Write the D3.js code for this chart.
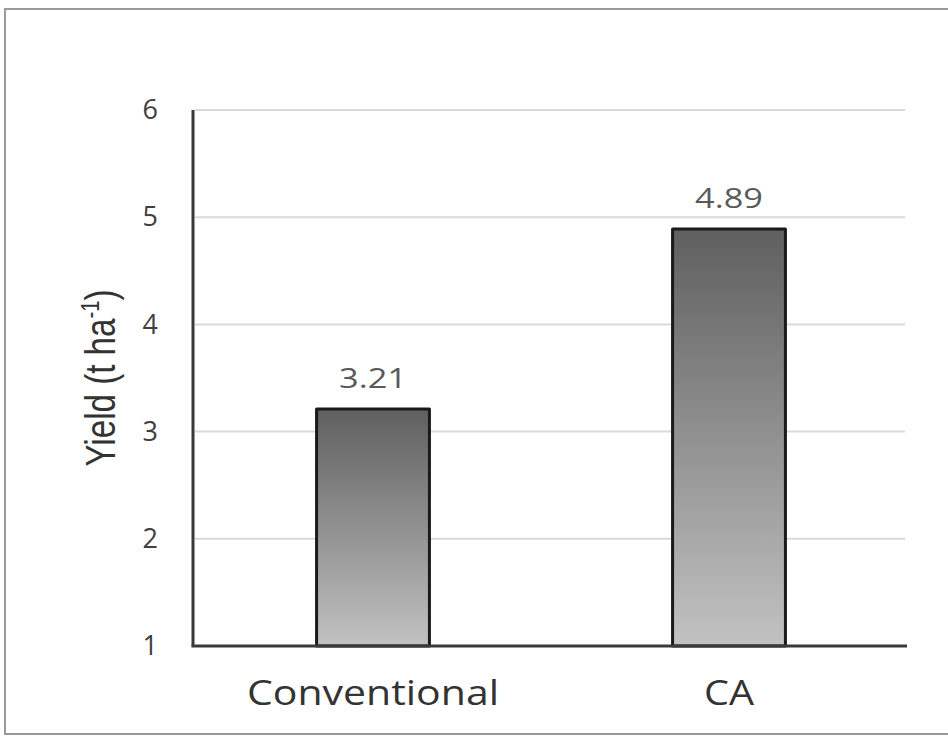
<!DOCTYPE html>
<html>
<head>
<meta charset="utf-8">
<script src="https://cdn.jsdelivr.net/npm/d3@7"></script>
<style>
  body { margin: 0; background: #fff; }
  svg { display: block; }
</style>
</head>
<body>
<svg id="chart" width="948" height="736"></svg>
<script>
// Yield by tillage system
const categories = ["Conventional", "CA"];
const yields = [3.21, 4.89];
const yTicks = [1, 2, 3, 4, 5, 6];
const yDomain = [1, 6];

const svg = d3.select("#chart");
const plot = { left: 195, right: 907, top: 110, bottom: 646 };

const x = d3.scaleBand()
  .domain(categories)
  .range([plot.left, plot.right])
  .paddingInner(0.683)
  .paddingOuter(0.3415);

const y = d3.scaleLinear().domain(yDomain).range([plot.bottom, plot.top]);

// Bar fill: dark grey at the top fading to light grey at the base
const defs = svg.append("defs");
const grad = defs.append("linearGradient")
  .attr("id", "barFill")
  .attr("x1", 0).attr("y1", 0).attr("x2", 0).attr("y2", 1);
grad.append("stop").attr("offset", "0%").attr("stop-color", "#5f5f5f");
grad.append("stop").attr("offset", "100%").attr("stop-color", "#c2c2c2");

// Outer frame
svg.append("rect")
  .attr("x", 5).attr("y", 9)
  .attr("width", 980).attr("height", 725)
  .attr("fill", "none")
  .attr("stroke", "#9a9a9a")
  .attr("stroke-width", 2);

// Horizontal gridlines
svg.append("g")
  .selectAll("line")
  .data(yTicks.filter(t => t !== yDomain[0]))
  .join("line")
  .attr("x1", plot.left).attr("x2", plot.right - 2)
  .attr("y1", d => y(d)).attr("y2", d => y(d))
  .attr("stroke", "#d9d9d9")
  .attr("stroke-width", 2);

// Y axis with tick labels
const yAxis = svg.append("g")
  .attr("transform", `translate(${plot.left},0)`)
  .call(d3.axisLeft(y).tickValues(yTicks).tickSize(0).tickPadding(37).tickFormat(d3.format("d")));
yAxis.select(".domain").remove();
yAxis.selectAll("text")
  .attr("font-family", "'Open Sans', sans-serif")
  .attr("font-size", 27)
  .attr("fill", "#404040");

// Bars
svg.append("g")
  .selectAll("rect")
  .data(categories.map((c, i) => ({ c, v: yields[i] })))
  .join("rect")
  .attr("x", d => x(d.c))
  .attr("y", d => y(d.v))
  .attr("width", x.bandwidth())
  .attr("height", d => y(yDomain[0]) - y(d.v))
  .attr("fill", "url(#barFill)")
  .attr("stroke", "#1a1a1a")
  .attr("stroke-width", 3)
  .attr("stroke-linejoin", "round");

// Axis lines
svg.append("line")
  .attr("x1", plot.left - 2).attr("x2", plot.left - 2)
  .attr("y1", plot.top).attr("y2", plot.bottom)
  .attr("stroke", "#3a3a3a").attr("stroke-width", 3);
svg.append("line")
  .attr("x1", plot.left - 3.5).attr("x2", plot.right)
  .attr("y1", plot.bottom).attr("y2", plot.bottom)
  .attr("stroke", "#3a3a3a").attr("stroke-width", 3);

// Value labels above bars
svg.append("g")
  .selectAll("text")
  .data(categories.map((c, i) => ({ c, v: yields[i] })))
  .join("text")
  .attr("x", d => x(d.c) + x.bandwidth() / 2)
  .attr("y", d => y(d.v) - 21)
  .attr("text-anchor", "middle")
  .attr("font-family", "'Open Sans', sans-serif")
  .attr("font-size", 27)
  .attr("fill", "#5a5a5a")
  .attr("textLength", 68)
  .attr("lengthAdjust", "spacingAndGlyphs")
  .text(d => d.v.toFixed(2));

// Category labels
svg.append("g")
  .selectAll("text")
  .data(categories)
  .join("text")
  .attr("x", d => x(d) + x.bandwidth() / 2)
  .attr("y", 705)
  .attr("text-anchor", "middle")
  .attr("font-family", "'Open Sans', sans-serif")
  .attr("font-size", 34)
  .attr("fill", "#333")
  .attr("textLength", d => d === "Conventional" ? 252 : 50)
  .attr("lengthAdjust", "spacingAndGlyphs")
  .text(d => d);

// Y axis title
const yTitle = svg.append("text")
  .attr("transform", "translate(115,378) scale(1.35,1) rotate(-90)")
  .attr("text-anchor", "middle")
  .attr("font-family", "'Liberation Sans Narrow', 'Liberation Sans', Arial, sans-serif")
  .attr("font-size", 31)
  .attr("fill", "#333")
  .attr("textLength", 177)
  .attr("lengthAdjust", "spacingAndGlyphs");
yTitle.append("tspan").text("Yield (t ha");
yTitle.append("tspan").attr("font-size", 19).attr("dy", -12).text("-1");
yTitle.append("tspan").attr("dy", 12).text(")");
</script>
</body>
</html>
